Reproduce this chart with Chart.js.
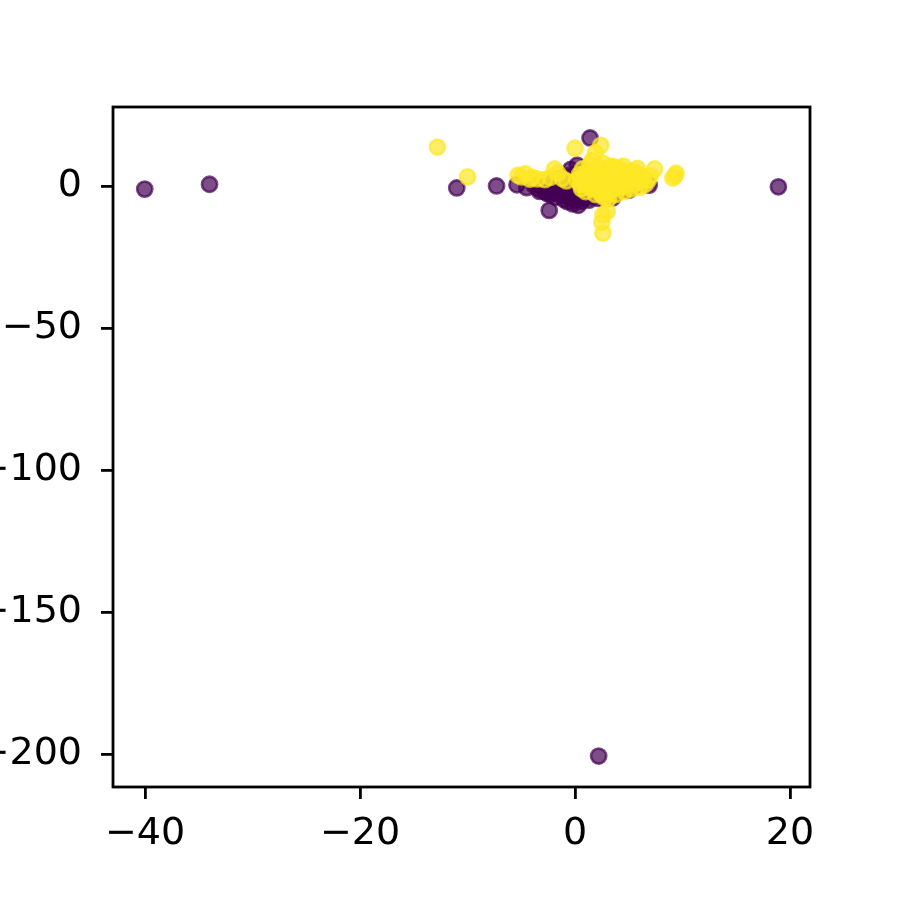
<!DOCTYPE html>
<html>
<head>
<meta charset="utf-8">
<script src="https://cdn.jsdelivr.net/npm/chart.js@4.4.1/dist/chart.umd.min.js"></script>
<style>
  html, body { margin: 0; padding: 0; background: #ffffff; }
  #wrap { width: 900px; height: 900px; position: relative; overflow: hidden; }
</style>
</head>
<body>
<div id="wrap"><canvas id="c" width="900" height="900"></canvas></div>
<script>
// ---- data ----
const xTicks = [-40, -20, 0, 20];
const yTicks = [0, -50, -100, -150, -200];
const xLimits = [-42.98, 21.86];
const yLimits = [-211.6, 27.8];

// class 0 (purple)
const purpleX = [-40.03, -34.0, -11.0, -7.3, 18.92, 2.2, 1.4, -2.4, 6.9, 0.2,
  -5.4, -4.5, -3.8, -3.4, -3.0, -2.8, -2.5, -2.3, -2.1, -1.9,
  -1.8, -1.6, -1.4, -1.3, -1.2, -1.0, -0.9, -0.8, -0.7, -0.6,
  -0.5, -0.4, -0.3, -0.2, -0.1, 0.0, 0.1, 0.2, 0.3, 0.4,
  0.5, 0.6, 0.7, 0.8, 0.9, 1.0, 1.2, 1.3, 1.5, -2.0,
  -1.5, -0.8, -0.3, 0.2, -0.4, 0.5, 1.8, 2.2, 2.8, 3.5,
  4.0, 4.5, 5.0, 3.0, 2.5, 5.6, 0.8, -2.6, -3.3];
const purpleY = [-1.1, 0.6, -0.7, 0.0, -0.3, -200.7, 16.9, -8.6, 0.3, 7.3,
  0.4, -0.6, 0.2, -1.0, -0.3, -2.0, -1.2, -3.0, -0.5, -2.4,
  -4.0, -1.5, -3.2, 0.8, -2.2, -4.8, -1.0, -3.6, -5.5, -2.6,
  0.5, -4.2, -1.8, -6.3, -3.0, -5.0, -2.0, -4.0, -6.8, -1.0,
  -3.5, -5.4, -2.6, -4.3, -0.5, -3.0, -1.8, -5.0, -3.8, 1.5,
  2.5, 3.5, 2.0, 4.5, 5.8, 1.2, -2.5, -4.4, -3.2, -4.2,
  -2.0, -0.7, -1.5, -1.0, 0.5, 0.2, -4.2, -2.6, -1.9];

// class 1 (yellow)
const yellowX = [-12.8, -10.0, 0.0, 2.4, 1.9, 1.6, 2.6, 3.0, 2.5, 2.6,
  7.4, 9.4, 9.1, 9.3, -5.3, -4.6, -4.0, -3.5, -2.8, -2.3,
  -1.9, -1.6, -1.2, -0.8, -4.2, -5.0,
  0.2, 0.4, 0.5, 0.6, 0.7, 0.8, 0.9, 1.0, 1.1, 1.2,
  1.3, 1.4, 1.5, 1.6, 1.7, 1.8, 1.9, 2.0, 2.1, 2.2,
  2.3, 2.4, 2.5, 2.6, 2.7, 2.8, 2.9, 3.0, 3.1, 3.2,
  3.3, 3.4, 3.5, 3.6, 3.7, 3.8, 3.9, 4.0, 4.1, 4.2,
  4.3, 4.4, 4.5, 4.6, 4.7, 4.8, 4.9, 5.0, 5.2, 5.3,
  5.5, 5.7, 5.9, 6.1, 6.3, 6.5, 2.0, 2.5, 3.0, 3.5,
  4.0, 2.2, 2.8, 3.3, 3.8, 4.3, 1.5, 1.0, 0.5, 2.4,
  3.1, 2.9, 3.6, 2.6, 4.5, 5.5, 6.8, 7.0, 6.0, 5.8];
const yellowY = [13.7, 3.2, 13.3, 14.3, 11.8, 9.0, -10.2, -9.0, -12.8, -16.6,
  6.0, 4.5, 2.8, 3.5, 3.8, 4.3, 3.0, 2.5, 2.2, 3.0,
  6.0, 4.5, 2.6, 1.8, 2.4, 3.2,
  2.0, 4.0, 0.5, -1.0, 6.0, 2.8, 1.2, -2.0, 4.8, 0.0,
  3.0, 7.5, 1.5, -0.8, 5.5, 2.4, -3.0, 0.8, 4.0, -1.5,
  6.5, 2.0, -0.2, 3.5, -4.0, 1.0, 5.0, -2.2, 2.8, 7.0,
  0.3, 4.2, -1.2, 1.8, 5.8, -3.0, 3.0, 0.8, 6.2, -0.5,
  2.3, 4.5, 1.0, -2.0, 3.2, 0.2, 5.0, 1.8, -1.0, 3.5,
  0.8, 2.5, 4.0, 1.5, 3.0, 0.5, 2.5, 1.5, 3.5, 2.5,
  2.0, 3.2, 2.2, 1.6, 3.6, 0.0, 3.8, 1.0, 2.8, -2.8,
  -4.6, -3.5, 6.8, 8.0, 7.0, 5.0, 2.0, 3.5, -0.5, 6.2];

const purpleColor = 'rgba(68, 1, 84, 0.7)';
const yellowColor = 'rgba(253, 231, 37, 0.7)';

function toPoints(xs, ys) { return xs.map((x, i) => ({ x: x, y: ys[i] })); }
function fmt(v) { return v < 0 ? '\u2212' + Math.abs(v) : String(v); }

const frame = {
  id: 'frame',
  afterDraw(chart) {
    const a = chart.chartArea, ctx = chart.ctx;
    ctx.save();
    ctx.strokeStyle = '#000';
    ctx.lineWidth = 2.8;
    ctx.strokeRect(a.left, a.top, a.right - a.left, a.bottom - a.top);
    ctx.restore();
  }
};

const font = { family: 'DejaVu Sans', size: 38 };

new Chart(document.getElementById('c'), {
  type: 'scatter',
  data: {
    datasets: [
      { label: '1', data: toPoints(yellowX, yellowY), order: 1,
        backgroundColor: yellowColor, borderColor: yellowColor,
        borderWidth: 2.6, pointRadius: 7.6, pointHoverRadius: 7.6 },
      { label: '0', data: toPoints(purpleX, purpleY), order: 2,
        backgroundColor: purpleColor, borderColor: purpleColor,
        borderWidth: 2.6, pointRadius: 7.6, pointHoverRadius: 7.6 }
    ]
  },
  options: {
    responsive: false,
    animation: false,
    devicePixelRatio: 1,
    layout: { padding: { left: 0, top: 107, right: 90, bottom: 0 } },
    plugins: { legend: { display: false }, tooltip: { enabled: false } },
    scales: {
      x: {
        type: 'linear', min: xLimits[0], max: xLimits[1],
        afterBuildTicks: s => { s.ticks = xTicks.map(v => ({ value: v })); },
        afterFit: s => { s.height = 113; },
        grid: { drawOnChartArea: false, drawTicks: true, tickLength: 12, color: '#000', lineWidth: 2.8 },
        border: { display: false },
        ticks: { color: '#000', font: font, padding: 12, maxRotation: 0, autoSkip: false, callback: v => fmt(v) }
      },
      y: {
        type: 'linear', min: yLimits[0], max: yLimits[1],
        afterBuildTicks: s => { s.ticks = yTicks.map(v => ({ value: v })); },
        afterFit: s => { s.width = 113; },
        grid: { drawOnChartArea: false, drawTicks: true, tickLength: 12, color: '#000', lineWidth: 2.8 },
        border: { display: false },
        ticks: { color: '#000', font: font, padding: 19, autoSkip: false, callback: v => fmt(v) }
      }
    }
  },
  plugins: [frame]
});
</script>
</body>
</html>
